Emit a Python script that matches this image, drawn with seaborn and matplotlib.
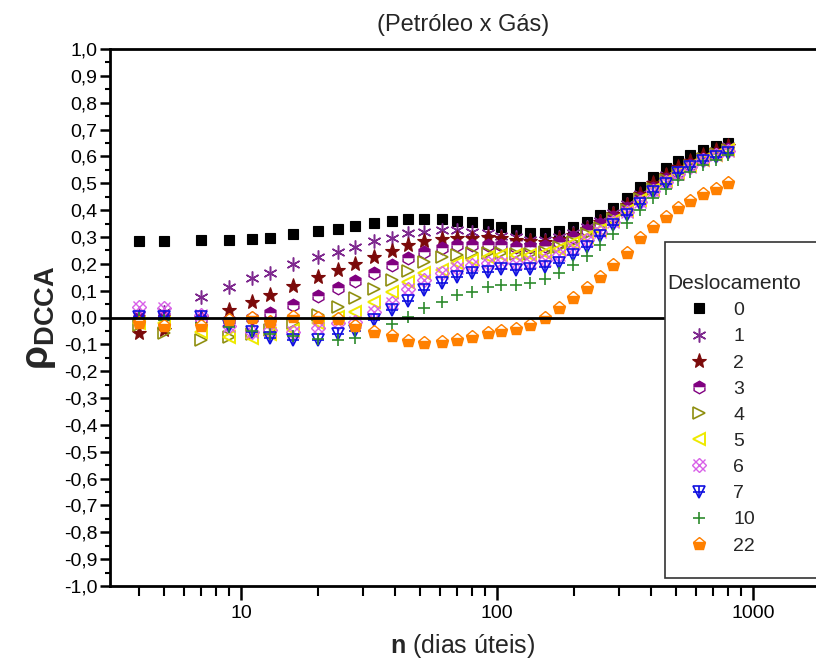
import matplotlib
matplotlib.use("Agg")
import matplotlib.pyplot as plt
import matplotlib.ticker as mticker
from matplotlib.patches import Rectangle
from matplotlib.legend_handler import HandlerTuple
import seaborn as sns
import pandas as pd

# ---------------- data ----------------
n_vals = [4, 5, 7, 9, 11, 13, 16, 20, 24, 28, 33, 39, 45,
          52, 61, 70, 80, 92, 104, 119, 135, 154, 175, 199,
          225, 253, 285, 321, 362, 408, 456, 511, 567, 640, 717, 801]

rho_0 = [0.285, 0.285, 0.289, 0.290, 0.293, 0.297, 0.310, 0.322, 0.331, 0.341, 0.353, 0.360, 0.366,
         0.366, 0.366, 0.360, 0.356, 0.347, 0.336, 0.326, 0.316, 0.314, 0.323, 0.336,
         0.357, 0.381, 0.407, 0.444, 0.485, 0.524, 0.556, 0.583, 0.604, 0.624, 0.639, 0.651]
rho_1 = [0.010, 0.020, 0.077, 0.115, 0.146, 0.167, 0.198, 0.224, 0.245, 0.261, 0.285, 0.297, 0.314,
         0.320, 0.326, 0.326, 0.320, 0.314, 0.304, 0.299, 0.289, 0.289, 0.301, 0.314,
         0.338, 0.361, 0.388, 0.423, 0.460, 0.497, 0.531, 0.558, 0.580, 0.601, 0.621, 0.639]
rho_2 = [-0.059, -0.045, 0.000, 0.028, 0.059, 0.084, 0.117, 0.152, 0.177, 0.199, 0.224, 0.248, 0.270,
         0.285, 0.292, 0.295, 0.297, 0.298, 0.295, 0.290, 0.284, 0.283, 0.294, 0.308,
         0.330, 0.355, 0.385, 0.420, 0.460, 0.500, 0.532, 0.560, 0.583, 0.605, 0.622, 0.640]
rho_3 = [0.000, 0.005, -0.005, -0.010, 0.000, 0.017, 0.047, 0.080, 0.109, 0.137, 0.165, 0.196, 0.222,
         0.245, 0.258, 0.270, 0.270, 0.270, 0.270, 0.264, 0.264, 0.266, 0.282, 0.301,
         0.326, 0.348, 0.373, 0.407, 0.444, 0.481, 0.515, 0.543, 0.568, 0.589, 0.609, 0.626]
rho_4 = [-0.028, -0.059, -0.084, -0.072, -0.060, -0.045, -0.022, 0.009, 0.040, 0.071, 0.105, 0.140, 0.175,
         0.208, 0.226, 0.233, 0.239, 0.239, 0.239, 0.236, 0.236, 0.245, 0.264, 0.282,
         0.310, 0.335, 0.365, 0.400, 0.440, 0.478, 0.513, 0.540, 0.566, 0.590, 0.608, 0.625]
rho_5 = [-0.020, -0.020, -0.053, -0.072, -0.075, -0.060, -0.047, -0.020, 0.003, 0.022, 0.059, 0.096, 0.133,
         0.165, 0.177, 0.202, 0.214, 0.226, 0.233, 0.233, 0.233, 0.239, 0.254, 0.276,
         0.300, 0.327, 0.360, 0.397, 0.437, 0.475, 0.510, 0.538, 0.563, 0.587, 0.606, 0.622]
rho_6 = [0.040, 0.034, 0.009, -0.030, -0.053, -0.045, -0.055, -0.040, -0.020, -0.015, 0.022, 0.053, 0.105,
         0.140, 0.165, 0.183, 0.196, 0.202, 0.202, 0.202, 0.208, 0.214, 0.233, 0.258,
         0.289, 0.320, 0.355, 0.392, 0.430, 0.470, 0.505, 0.535, 0.560, 0.585, 0.604, 0.620]
rho_7 = [0.003, 0.003, 0.003, -0.030, -0.055, -0.075, -0.085, -0.085, -0.062, -0.050, -0.010, 0.027, 0.062,
         0.102, 0.127, 0.152, 0.165, 0.171, 0.179, 0.177, 0.179, 0.189, 0.202, 0.233,
         0.264, 0.304, 0.344, 0.382, 0.423, 0.469, 0.497, 0.537, 0.562, 0.584, 0.599, 0.611]
rho_10 = [0.000, -0.010, -0.020, -0.035, -0.050, -0.060, -0.070, -0.080, -0.085, -0.078, -0.050, -0.026, 0.003,
          0.034, 0.059, 0.084, 0.096, 0.115, 0.121, 0.121, 0.127, 0.142, 0.165, 0.196,
          0.229, 0.270, 0.311, 0.353, 0.400, 0.444, 0.477, 0.512, 0.543, 0.568, 0.587, 0.605]
rho_22 = [-0.020, -0.030, -0.030, -0.010, 0.000, -0.015, 0.003, -0.003, -0.005, -0.030, -0.053, -0.068, -0.088,
          -0.096, -0.092, -0.084, -0.071, -0.059, -0.049, -0.044, -0.028, -0.003, 0.034, 0.071,
          0.109, 0.152, 0.196, 0.241, 0.295, 0.338, 0.373, 0.407, 0.435, 0.459, 0.479, 0.500]

lags = ["0", "1", "2", "3", "4", "5", "6", "7", "10", "22"]
series = [rho_0, rho_1, rho_2, rho_3, rho_4, rho_5, rho_6, rho_7, rho_10, rho_22]

title_text = "(Petróleo x Gás)"
legend_title = "Deslocamento"
x_major = [10, 100, 1000]
x_major_labels = ["10", "100", "1000"]

# ---------------- styles ----------------
def mk(marker, color, size, mew=1.1, **extra):
    d = dict(marker=marker, color=color, markeredgecolor=color, markersize=size, markeredgewidth=mew)
    d.update(extra)
    return d

styles = {
    "0":  [mk("s", "black", 7.8, 0.8, markerfacecolor="black")],
    "1":  [mk((6, 2, 0), "#7F2A8F", 10, 1.1)],
    "2":  [mk("*", "#7B0A0A", 11, 0.8, markerfacecolor="#7B0A0A")],
    "3":  [mk("h", "#800080", 9, 1.0, fillstyle="top", markerfacecolor="#800080",
              markerfacecoloralt="white")],
    "4":  [mk(">", "#8F8F10", 9, 1.2, fillstyle="none")],
    "5":  [mk("<", "#EEEA00", 9, 1.4, fillstyle="none")],
    "6":  [mk("D", "#D860E8", 7.5, 1.0, fillstyle="none"),
           mk("x", "#D860E8", 9, 1.0)],
    "7":  [mk("v", "#1010E0", 9, 1.2, fillstyle="none"),
           mk("+", "#1010E0", 9, 1.2)],
    "10": [mk("+", "#2E8B2E", 9, 1.2)],
    "22": [mk("p", "#FF8000", 9.5, 1.0, fillstyle="bottom", markerfacecolor="#FF8000",
              markerfacecoloralt="white")],
}

# ---------------- plotting ----------------
sns.set_theme(style="ticks")
plt.rcParams["font.family"] = ["Liberation Sans", "DejaVu Sans"]
plt.rcParams["mathtext.fontset"] = "custom"
plt.rcParams["mathtext.rm"] = "Liberation Sans"
plt.rcParams["mathtext.bf"] = "Liberation Sans:bold"
plt.rcParams["mathtext.it"] = "Liberation Sans:italic"

fig = plt.figure(figsize=(8.16, 6.63), dpi=100)
fig.patch.set_facecolor("white")
ax = fig.add_axes([110 / 816, 1 - 586 / 663, 706 / 816, 537 / 663])
ax.set_facecolor("white")

handles = []
for lag, vals in zip(lags, series):
    df = pd.DataFrame({"n": n_vals, "rho": vals})
    parts = []
    for st in styles[lag]:
        sns.lineplot(data=df, x="n", y="rho", ax=ax, estimator=None, sort=False,
                     linestyle="", legend=False, **st)
        parts.append(ax.lines[-1])
    handles.append(tuple(parts) if len(parts) > 1 else parts[0])

ax.axhline(0, color="black", lw=2, zorder=2.6)

ax.set_xscale("log")
ax.set_xlim(3.078, 1763)
ax.set_ylim(-1.0, 1.0)

ax.set_xticks(x_major)
ax.set_xticklabels(x_major_labels)
ax.xaxis.set_minor_locator(mticker.LogLocator(base=10, subs=range(2, 10)))
ax.xaxis.set_minor_formatter(mticker.NullFormatter())

ax.yaxis.set_major_locator(mticker.MultipleLocator(0.1))
ax.yaxis.set_minor_locator(mticker.MultipleLocator(0.05))
ax.yaxis.set_major_formatter(mticker.FuncFormatter(lambda v, p: f"{v:.1f}".replace(".", ",").replace("-0,0", "0,0")))

for side in ["left", "bottom", "top"]:
    ax.spines[side].set_linewidth(2)
    ax.spines[side].set_color("black")
ax.spines["right"].set_visible(False)

ax.tick_params(axis="both", which="both", direction="out", colors="black", labelcolor="black")
ax.tick_params(axis="y", which="major", length=7, width=1.8, labelsize=14, pad=2)
ax.tick_params(axis="y", which="minor", length=3.5, width=1.5)
ax.tick_params(axis="x", which="major", length=10, width=1.8, labelsize=14, pad=4)
ax.tick_params(axis="x", which="minor", length=7, width=1.5)
ax.tick_params(top=False, right=False, which="both")

ax.set_title(title_text, fontsize=17, pad=13)
ax.set_xlabel(r"$\mathbf{n}$ (dias úteis)", fontsize=18, labelpad=7)
ax.set_ylabel(r"ρ$_{\mathbf{DCCA}}$", fontsize=28, fontweight="bold", labelpad=4)

# legend frame (extends beyond the right edge, as in the original)
frame = Rectangle((0.786, 0.0149), 0.30, 0.6257, transform=ax.transAxes,
                  facecolor="white", edgecolor="#333333", lw=1.2, zorder=4, clip_on=False)
ax.add_patch(frame)

leg = ax.legend(handles, lags, title=legend_title, loc="upper left",
                bbox_to_anchor=(667 / 816, 1 - 274 / 663), bbox_transform=fig.transFigure,
                frameon=False, fontsize=14, title_fontsize=15, numpoints=1,
                handlelength=3.3, handletextpad=0.1, labelspacing=0.44, borderpad=0,
                borderaxespad=0, alignment="left",
                handler_map={tuple: HandlerTuple(ndivide=1, pad=0)})
leg.set_zorder(5)

fig.savefig("out.png", dpi=100, facecolor="white")
